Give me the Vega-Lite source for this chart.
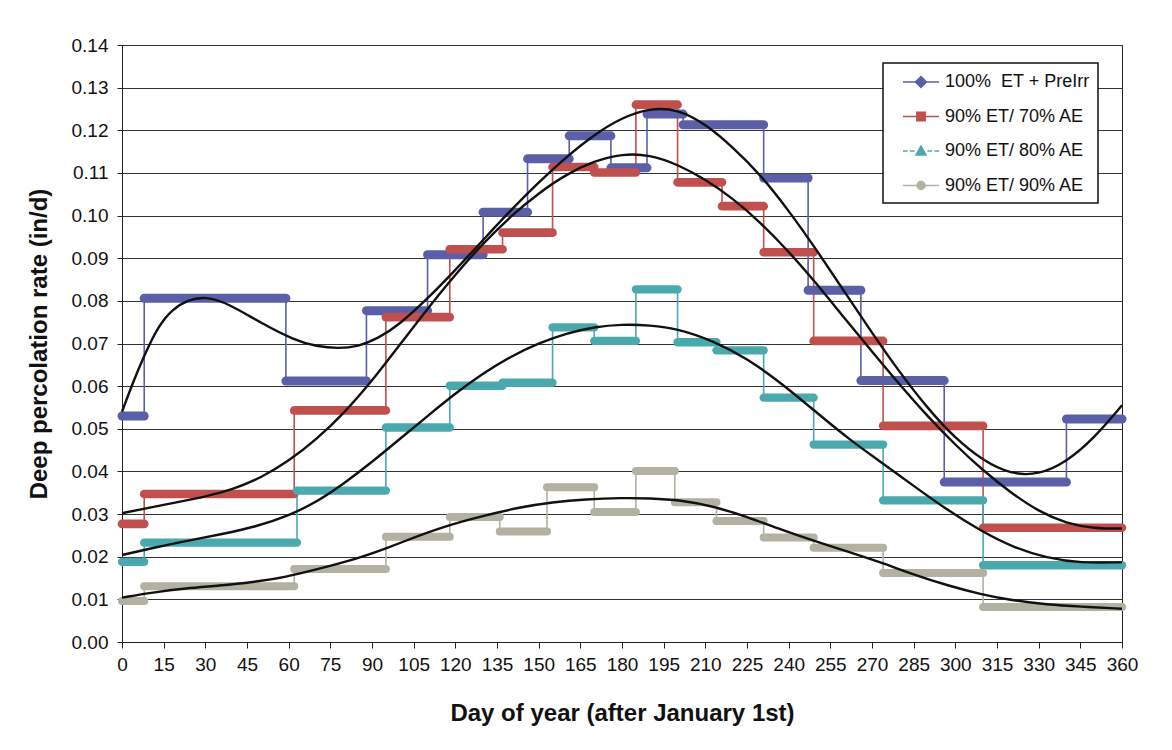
{
  "$schema": "https://vega.github.io/schema/vega-lite/v6.json",
  "width": 1000,
  "height": 597,
  "autosize": {"type": "none"},
  "padding": {"left": 122, "top": 45, "right": 50, "bottom": 108},
  "background": "white",
  "config": {
    "font": "Liberation Sans",
    "view": {"stroke": "#222", "strokeWidth": 1},
    "axis": {
      "labelFont": "Liberation Sans", "labelFontSize": 19, "labelColor": "#111",
      "titleFont": "Liberation Sans", "titleFontSize": 24, "titleFontWeight": "bold", "titleColor": "#111",
      "domainColor": "#222", "tickColor": "#222"
    }
  },
  "datasets": {
    "steps": [
      {"series": "100%\u00a0 ET + PreIrr", "day": 0, "end": 8, "value": 0.0530},
      {"series": "100%\u00a0 ET + PreIrr", "day": 8, "end": 59, "value": 0.0806},
      {"series": "100%\u00a0 ET + PreIrr", "day": 59, "end": 88, "value": 0.0612},
      {"series": "100%\u00a0 ET + PreIrr", "day": 88, "end": 110, "value": 0.0777},
      {"series": "100%\u00a0 ET + PreIrr", "day": 110, "end": 130, "value": 0.0908},
      {"series": "100%\u00a0 ET + PreIrr", "day": 130, "end": 146, "value": 0.1008},
      {"series": "100%\u00a0 ET + PreIrr", "day": 146, "end": 161, "value": 0.1133},
      {"series": "100%\u00a0 ET + PreIrr", "day": 161, "end": 176, "value": 0.1187},
      {"series": "100%\u00a0 ET + PreIrr", "day": 176, "end": 189, "value": 0.1112},
      {"series": "100%\u00a0 ET + PreIrr", "day": 189, "end": 202, "value": 0.1238},
      {"series": "100%\u00a0 ET + PreIrr", "day": 202, "end": 231, "value": 0.1213},
      {"series": "100%\u00a0 ET + PreIrr", "day": 231, "end": 247, "value": 0.1088},
      {"series": "100%\u00a0 ET + PreIrr", "day": 247, "end": 266, "value": 0.0825},
      {"series": "100%\u00a0 ET + PreIrr", "day": 266, "end": 296, "value": 0.0613},
      {"series": "100%\u00a0 ET + PreIrr", "day": 296, "end": 340, "value": 0.0375},
      {"series": "100%\u00a0 ET + PreIrr", "day": 340, "end": 360, "value": 0.0523},
      {"series": "90% ET/ 70% AE", "day": 0, "end": 8, "value": 0.0277},
      {"series": "90% ET/ 70% AE", "day": 8, "end": 62, "value": 0.0347},
      {"series": "90% ET/ 70% AE", "day": 62, "end": 95, "value": 0.0543},
      {"series": "90% ET/ 70% AE", "day": 95, "end": 118, "value": 0.0762},
      {"series": "90% ET/ 70% AE", "day": 118, "end": 137, "value": 0.0921},
      {"series": "90% ET/ 70% AE", "day": 137, "end": 155, "value": 0.0960},
      {"series": "90% ET/ 70% AE", "day": 155, "end": 170, "value": 0.1114},
      {"series": "90% ET/ 70% AE", "day": 170, "end": 185, "value": 0.1101},
      {"series": "90% ET/ 70% AE", "day": 185, "end": 200, "value": 0.1260},
      {"series": "90% ET/ 70% AE", "day": 200, "end": 216, "value": 0.1078},
      {"series": "90% ET/ 70% AE", "day": 216, "end": 231, "value": 0.1022},
      {"series": "90% ET/ 70% AE", "day": 231, "end": 249, "value": 0.0914},
      {"series": "90% ET/ 70% AE", "day": 249, "end": 274, "value": 0.0706},
      {"series": "90% ET/ 70% AE", "day": 274, "end": 310, "value": 0.0507},
      {"series": "90% ET/ 70% AE", "day": 310, "end": 360, "value": 0.0268},
      {"series": "90% ET/ 80% AE", "day": 0, "end": 8, "value": 0.0188},
      {"series": "90% ET/ 80% AE", "day": 8, "end": 63, "value": 0.0233},
      {"series": "90% ET/ 80% AE", "day": 63, "end": 95, "value": 0.0355},
      {"series": "90% ET/ 80% AE", "day": 95, "end": 118, "value": 0.0503},
      {"series": "90% ET/ 80% AE", "day": 118, "end": 137, "value": 0.0601},
      {"series": "90% ET/ 80% AE", "day": 137, "end": 155, "value": 0.0608},
      {"series": "90% ET/ 80% AE", "day": 155, "end": 170, "value": 0.0738},
      {"series": "90% ET/ 80% AE", "day": 170, "end": 185, "value": 0.0706},
      {"series": "90% ET/ 80% AE", "day": 185, "end": 200, "value": 0.0827},
      {"series": "90% ET/ 80% AE", "day": 200, "end": 214, "value": 0.0703},
      {"series": "90% ET/ 80% AE", "day": 214, "end": 231, "value": 0.0684},
      {"series": "90% ET/ 80% AE", "day": 231, "end": 249, "value": 0.0573},
      {"series": "90% ET/ 80% AE", "day": 249, "end": 274, "value": 0.0463},
      {"series": "90% ET/ 80% AE", "day": 274, "end": 310, "value": 0.0332},
      {"series": "90% ET/ 80% AE", "day": 310, "end": 360, "value": 0.0180},
      {"series": "90% ET/ 90% AE", "day": 0, "end": 8, "value": 0.0096},
      {"series": "90% ET/ 90% AE", "day": 8, "end": 62, "value": 0.0131},
      {"series": "90% ET/ 90% AE", "day": 62, "end": 95, "value": 0.0171},
      {"series": "90% ET/ 90% AE", "day": 95, "end": 118, "value": 0.0247},
      {"series": "90% ET/ 90% AE", "day": 118, "end": 136, "value": 0.0293},
      {"series": "90% ET/ 90% AE", "day": 136, "end": 153, "value": 0.0259},
      {"series": "90% ET/ 90% AE", "day": 153, "end": 170, "value": 0.0363},
      {"series": "90% ET/ 90% AE", "day": 170, "end": 185, "value": 0.0305},
      {"series": "90% ET/ 90% AE", "day": 185, "end": 199, "value": 0.0401},
      {"series": "90% ET/ 90% AE", "day": 199, "end": 214, "value": 0.0328},
      {"series": "90% ET/ 90% AE", "day": 214, "end": 231, "value": 0.0284},
      {"series": "90% ET/ 90% AE", "day": 231, "end": 249, "value": 0.0245},
      {"series": "90% ET/ 90% AE", "day": 249, "end": 274, "value": 0.0221},
      {"series": "90% ET/ 90% AE", "day": 274, "end": 310, "value": 0.0162},
      {"series": "90% ET/ 90% AE", "day": 310, "end": 360, "value": 0.0082}
    ],
    "fits": [
      {"fit": "B", "day": 0, "value": 0.0540}, {"fit": "B", "day": 4, "value": 0.0610}, {"fit": "B", "day": 8, "value": 0.0672},
      {"fit": "B", "day": 13, "value": 0.0740}, {"fit": "B", "day": 18, "value": 0.0780}, {"fit": "B", "day": 24, "value": 0.0803},
      {"fit": "B", "day": 30, "value": 0.0810}, {"fit": "B", "day": 38, "value": 0.0795}, {"fit": "B", "day": 50, "value": 0.0748},
      {"fit": "B", "day": 62, "value": 0.0708}, {"fit": "B", "day": 70, "value": 0.0693}, {"fit": "B", "day": 78, "value": 0.0688},
      {"fit": "B", "day": 85, "value": 0.0693}, {"fit": "B", "day": 92, "value": 0.0711}, {"fit": "B", "day": 100, "value": 0.0745},
      {"fit": "B", "day": 110, "value": 0.0805}, {"fit": "B", "day": 120, "value": 0.0872}, {"fit": "B", "day": 130, "value": 0.0943},
      {"fit": "B", "day": 140, "value": 0.1013}, {"fit": "B", "day": 150, "value": 0.1078}, {"fit": "B", "day": 160, "value": 0.1138},
      {"fit": "B", "day": 170, "value": 0.1190}, {"fit": "B", "day": 180, "value": 0.1230}, {"fit": "B", "day": 190, "value": 0.1252},
      {"fit": "B", "day": 200, "value": 0.1250}, {"fit": "B", "day": 210, "value": 0.1215}, {"fit": "B", "day": 220, "value": 0.1160},
      {"fit": "B", "day": 230, "value": 0.1095}, {"fit": "B", "day": 240, "value": 0.1012}, {"fit": "B", "day": 250, "value": 0.0920},
      {"fit": "B", "day": 260, "value": 0.0822}, {"fit": "B", "day": 270, "value": 0.0725}, {"fit": "B", "day": 280, "value": 0.0632},
      {"fit": "B", "day": 290, "value": 0.0548}, {"fit": "B", "day": 300, "value": 0.0477}, {"fit": "B", "day": 310, "value": 0.0425},
      {"fit": "B", "day": 320, "value": 0.0393}, {"fit": "B", "day": 330, "value": 0.0392}, {"fit": "B", "day": 340, "value": 0.0422},
      {"fit": "B", "day": 350, "value": 0.0478}, {"fit": "B", "day": 360, "value": 0.0555},
      {"fit": "R", "day": 0, "value": 0.0302}, {"fit": "R", "day": 10, "value": 0.0315}, {"fit": "R", "day": 20, "value": 0.0328},
      {"fit": "R", "day": 30, "value": 0.0341}, {"fit": "R", "day": 40, "value": 0.0358}, {"fit": "R", "day": 50, "value": 0.0385},
      {"fit": "R", "day": 60, "value": 0.0424}, {"fit": "R", "day": 70, "value": 0.0475}, {"fit": "R", "day": 80, "value": 0.0537},
      {"fit": "R", "day": 90, "value": 0.0612}, {"fit": "R", "day": 100, "value": 0.0697}, {"fit": "R", "day": 110, "value": 0.0782},
      {"fit": "R", "day": 120, "value": 0.0862}, {"fit": "R", "day": 130, "value": 0.0935}, {"fit": "R", "day": 140, "value": 0.0999},
      {"fit": "R", "day": 150, "value": 0.1053}, {"fit": "R", "day": 160, "value": 0.1097}, {"fit": "R", "day": 170, "value": 0.1128},
      {"fit": "R", "day": 180, "value": 0.1145}, {"fit": "R", "day": 190, "value": 0.1143}, {"fit": "R", "day": 200, "value": 0.1120},
      {"fit": "R", "day": 210, "value": 0.1085}, {"fit": "R", "day": 220, "value": 0.1040}, {"fit": "R", "day": 230, "value": 0.0983},
      {"fit": "R", "day": 240, "value": 0.0916}, {"fit": "R", "day": 250, "value": 0.0841}, {"fit": "R", "day": 260, "value": 0.0760},
      {"fit": "R", "day": 270, "value": 0.0681}, {"fit": "R", "day": 280, "value": 0.0603}, {"fit": "R", "day": 290, "value": 0.0529},
      {"fit": "R", "day": 300, "value": 0.0462}, {"fit": "R", "day": 310, "value": 0.0402}, {"fit": "R", "day": 320, "value": 0.0350},
      {"fit": "R", "day": 330, "value": 0.0306}, {"fit": "R", "day": 340, "value": 0.0278}, {"fit": "R", "day": 350, "value": 0.0266},
      {"fit": "R", "day": 360, "value": 0.0266},
      {"fit": "T", "day": 0, "value": 0.0204}, {"fit": "T", "day": 12, "value": 0.0222}, {"fit": "T", "day": 24, "value": 0.0238},
      {"fit": "T", "day": 36, "value": 0.0253}, {"fit": "T", "day": 48, "value": 0.0270}, {"fit": "T", "day": 60, "value": 0.0296},
      {"fit": "T", "day": 70, "value": 0.0328}, {"fit": "T", "day": 80, "value": 0.0372}, {"fit": "T", "day": 90, "value": 0.0422},
      {"fit": "T", "day": 100, "value": 0.0476}, {"fit": "T", "day": 110, "value": 0.0530}, {"fit": "T", "day": 120, "value": 0.0583},
      {"fit": "T", "day": 130, "value": 0.0630}, {"fit": "T", "day": 140, "value": 0.0670}, {"fit": "T", "day": 150, "value": 0.0701},
      {"fit": "T", "day": 160, "value": 0.0724}, {"fit": "T", "day": 170, "value": 0.0739}, {"fit": "T", "day": 180, "value": 0.0745},
      {"fit": "T", "day": 190, "value": 0.0743}, {"fit": "T", "day": 200, "value": 0.0735}, {"fit": "T", "day": 213, "value": 0.0706},
      {"fit": "T", "day": 225, "value": 0.0665}, {"fit": "T", "day": 237, "value": 0.0609}, {"fit": "T", "day": 249, "value": 0.0544},
      {"fit": "T", "day": 261, "value": 0.0479}, {"fit": "T", "day": 273, "value": 0.0423}, {"fit": "T", "day": 285, "value": 0.0366},
      {"fit": "T", "day": 297, "value": 0.0310}, {"fit": "T", "day": 309, "value": 0.0261}, {"fit": "T", "day": 321, "value": 0.0221},
      {"fit": "T", "day": 333, "value": 0.0197}, {"fit": "T", "day": 345, "value": 0.0185}, {"fit": "T", "day": 360, "value": 0.0187},
      {"fit": "G", "day": 0, "value": 0.0104}, {"fit": "G", "day": 11, "value": 0.0116}, {"fit": "G", "day": 23, "value": 0.0126},
      {"fit": "G", "day": 35, "value": 0.0132}, {"fit": "G", "day": 47, "value": 0.0140}, {"fit": "G", "day": 59, "value": 0.0152},
      {"fit": "G", "day": 71, "value": 0.0172}, {"fit": "G", "day": 83, "value": 0.0192}, {"fit": "G", "day": 95, "value": 0.0219},
      {"fit": "G", "day": 107, "value": 0.0250}, {"fit": "G", "day": 119, "value": 0.0277}, {"fit": "G", "day": 131, "value": 0.0297},
      {"fit": "G", "day": 143, "value": 0.0316}, {"fit": "G", "day": 155, "value": 0.0328}, {"fit": "G", "day": 167, "value": 0.0335},
      {"fit": "G", "day": 180, "value": 0.0338}, {"fit": "G", "day": 190, "value": 0.0337}, {"fit": "G", "day": 201, "value": 0.0333},
      {"fit": "G", "day": 213, "value": 0.0318}, {"fit": "G", "day": 225, "value": 0.0294}, {"fit": "G", "day": 237, "value": 0.0264},
      {"fit": "G", "day": 249, "value": 0.0237}, {"fit": "G", "day": 261, "value": 0.0213}, {"fit": "G", "day": 273, "value": 0.0187},
      {"fit": "G", "day": 285, "value": 0.0158}, {"fit": "G", "day": 297, "value": 0.0133}, {"fit": "G", "day": 309, "value": 0.0112},
      {"fit": "G", "day": 321, "value": 0.0097}, {"fit": "G", "day": 333, "value": 0.0088}, {"fit": "G", "day": 345, "value": 0.0083},
      {"fit": "G", "day": 360, "value": 0.0078}
    ]
  },
  "encoding": {
    "x": {
      "field": "day", "type": "quantitative",
      "scale": {"domain": [0, 360], "nice": false, "zero": false},
      "axis": {
        "title": "Day of year (after January 1st)",
        "values": [0, 15, 30, 45, 60, 75, 90, 105, 120, 135, 150, 165, 180, 195, 210, 225, 240, 255, 270, 285, 300, 315, 330, 345, 360],
        "format": "d", "grid": false, "labelAngle": 0, "tickSize": 6, "labelPadding": 7, "titlePadding": 27, "labelFlush": false, "labelOverlap": false
      }
    },
    "y": {
      "field": "value", "type": "quantitative",
      "scale": {"domain": [0, 0.14], "nice": false},
      "axis": {
        "title": "Deep percolation rate (in/d)",
        "values": [0, 0.01, 0.02, 0.03, 0.04, 0.05, 0.06, 0.07, 0.08, 0.09, 0.1, 0.11, 0.12, 0.13, 0.14],
        "format": ".2f", "grid": true, "gridColor": "#333", "gridWidth": 1, "tickSize": 5, "labelPadding": 9, "titlePadding": 20, "labelFlush": false, "labelOverlap": false
      }
    },
    "color": {
      "field": "series", "type": "nominal",
      "scale": {"domain": ["100%\u00a0 ET + PreIrr", "90% ET/ 70% AE", "90% ET/ 80% AE", "90% ET/ 90% AE"], "range": ["#5a5fa8", "#c0504d", "#4aa9ad", "#b3b1a2"]},
      "legend": {
        "title": null, "orient": "none", "legendX": 761, "legendY": 18,
        "direction": "vertical",
        "fillColor": "white", "strokeColor": "#111", "padding": 8,
        "symbolSize": 400, "symbolOffset": 19, "labelOffset": 13, "rowPadding": 14.5,
        "labelFont": "Liberation Sans", "labelFontSize": 18, "labelColor": "#111", "labelLimit": 400,
        "encode": {
          "legend": {"update": {"strokeWidth": {"value": 1.5}}},
          "symbols": {"update": {
            "shape": {"signal": "datum.index === 0 ? 'M-1.8,0H1.8M0,-0.55L0.55,0L0,0.55L-0.55,0Z' : datum.index === 1 ? 'M-1.8,0H1.8M-0.42,-0.42H0.42V0.42H-0.42Z' : datum.index === 2 ? 'M-1.8,0H-1.35M-1.1,0H-0.65M0.65,0H1.1M1.35,0H1.8M0,-0.5L0.5,0.4H-0.5Z' : 'M-1.8,0H1.8M0.4,0A0.4,0.4,0,1,1,-0.4,0A0.4,0.4,0,1,1,0.4,0Z'"},
            "fill": {"signal": "scale('color', datum.value)"},
            "stroke": {"signal": "scale('color', datum.value)"},
            "strokeWidth": {"value": 1.5},
            "opacity": {"value": 1}
          }}
        }
      }
    }
  },
  "layer": [
    {
      "data": {"name": "steps"},
      "mark": {"type": "line", "interpolate": "step-after"},
      "encoding": {
        "strokeWidth": {
          "field": "series", "type": "nominal",
          "scale": {"domain": ["100%\u00a0 ET + PreIrr", "90% ET/ 70% AE", "90% ET/ 80% AE", "90% ET/ 90% AE"], "range": [1.6, 1.6, 1, 0.8]},
          "legend": null
        }
      }
    },
    {
      "data": {"name": "steps"},
      "mark": {"type": "rule", "strokeCap": "round"},
      "encoding": {
        "x2": {"field": "end"},
        "strokeWidth": {
          "field": "series", "type": "nominal",
          "scale": {"domain": ["100%\u00a0 ET + PreIrr", "90% ET/ 70% AE", "90% ET/ 80% AE", "90% ET/ 90% AE"], "range": [9, 8, 7.5, 7]},
          "legend": null
        }
      }
    },
    {
      "data": {"name": "fits"},
      "mark": {"type": "line", "interpolate": "basis", "strokeWidth": 2.4},
      "encoding": {
        "color": {"value": "#111"},
        "detail": {"field": "fit", "type": "nominal"}
      }
    }
  ],
  "resolve": {"scale": {"strokeWidth": "independent"}}
}
